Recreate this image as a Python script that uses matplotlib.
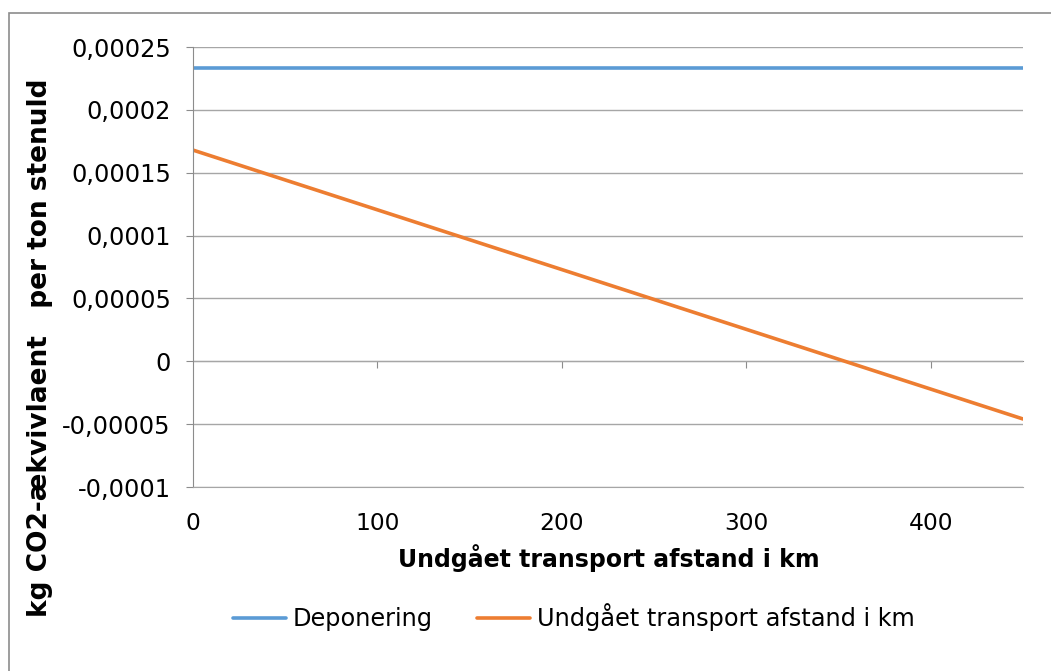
import matplotlib
matplotlib.use("Agg")
import matplotlib.pyplot as plt
from matplotlib.patches import Rectangle
from matplotlib.ticker import FuncFormatter

# data
afstand = [0, 450]
deponering = [0.000233, 0.000233]
undgaaet = [0.000168, -0.0000459]
x_ticks = [0, 100, 200, 300, 400]
y_ticks = [-0.0001, -0.00005, 0, 0.00005, 0.0001, 0.00015, 0.0002, 0.00025]

W, H = 1051, 671
fig = plt.figure(figsize=(W / 100, H / 100), dpi=100)
plt.rcParams['font.family'] = 'DejaVu Sans'

# outer chart frame (only left and top visible)
fig.patches.append(Rectangle((9 / W, -0.2), 1.3, 1 - 13 / H + 0.2,
                             transform=fig.transFigure, fill=False,
                             edgecolor='#8c8c8c', linewidth=1.2))

ax = fig.add_axes([193 / W, 1 - 487 / H, (1023 - 193) / W, (487 - 47) / H])

ax.plot(afstand, deponering, color='#5B9BD5', linewidth=2.6, solid_capstyle='round', label='Deponering')
ax.plot(afstand, undgaaet, color='#ED7D31', linewidth=2.6, solid_capstyle='round',
        label='Undgået transport afstand i km')

ax.set_xlim(0, 450)
ax.set_ylim(-0.0001, 0.00025)
ax.set_yticks(y_ticks)
ax.set_xticks(x_ticks)

def komma(v, pos):
    s = ('%.5f' % v).rstrip('0').rstrip('.')
    if s in ('-0', ''):
        s = '0'
    return s.replace('.', ',')

ax.yaxis.set_major_formatter(FuncFormatter(komma))
ax.yaxis.grid(True, color='#a6a6a6', linewidth=1)
ax.set_axisbelow(True)

for s in ['top', 'right']:
    ax.spines[s].set_visible(False)
ax.spines['bottom'].set_color('#a6a6a6')
ax.spines['left'].set_color('#8c8c8c')
ax.tick_params(axis='y', direction='out', length=5, color='#8c8c8c', labelsize=17.3, pad=11)
ax.tick_params(axis='x', length=0, labelsize=16.8, pad=18)

# x axis line through zero with tick marks
sec = ax.secondary_xaxis(0.1 / 0.35)
sec.set_xticks(x_ticks[1:])
sec.tick_params(direction='out', length=5, color='#8c8c8c', labelbottom=False)
sec.spines['bottom'].set_color('#8c8c8c')

fig.text(609 / W, 1 - 558 / H, 'Undgået transport afstand i km', ha='center', va='center',
         fontsize=17, fontweight='bold')
fig.text(40 / W, 1 - 348 / H, 'kg CO2-ækvivlaent   per ton stenuld', ha='center', va='center',
         rotation=90, fontsize=19, fontweight='bold')

fig.legend(loc='center', bbox_to_anchor=(574 / W, 1 - 617 / H), ncol=2, frameon=False,
           fontsize=17.3, handlelength=2.2, handletextpad=0.3, columnspacing=1.85)

fig.savefig('out.png', dpi=100)
